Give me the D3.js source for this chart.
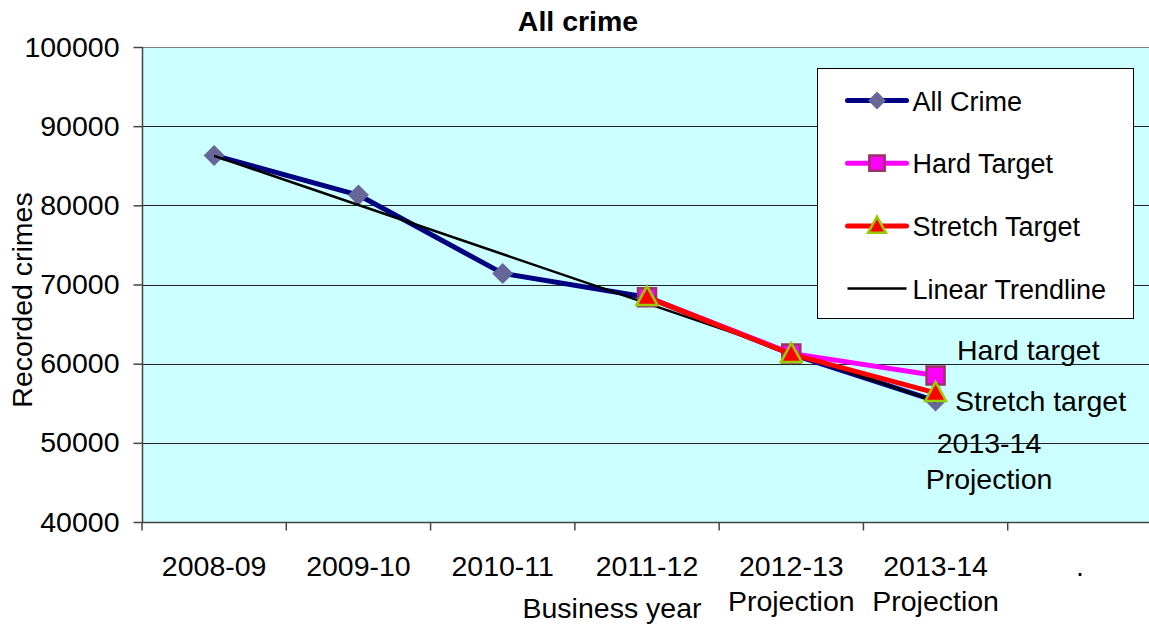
<!DOCTYPE html>
<html>
<head>
<meta charset="utf-8">
<script src="https://cdn.jsdelivr.net/npm/d3@7"></script>
<style>
  body { margin: 0; background: #fff; overflow: hidden; }
  text { font-family: "Liberation Sans", Arial, sans-serif; fill: #000; }
</style>
</head>
<body>
<div id="chart"></div>
<script>
var width = 1149,
    height = 626;

// data
var categories = ["2008-09", "2009-10", "2010-11", "2011-12", "2012-13\nProjection", "2013-14\nProjection", "."];
var allCrime = [86300, 81300, 71400, 68400, 61200, 55300, null];
var hardTarget = [null, null, null, 68400, 61300, 58500, null];
var stretchTarget = [null, null, null, 68400, 61200, 56300, null];
var trendline = [86250, null, null, null, null, 55200, null];
var yTicks = [40000, 50000, 60000, 70000, 80000, 90000, 100000];

var plot = {left: 142, top: 47, right: 1152, bottom: 522};
var fontSize = 28.5;

var x = d3.scaleBand()
    .domain(d3.range(categories.length))
    .range([plot.left, plot.right]);

var y = d3.scaleLinear()
    .domain([40000, 100000])
    .range([plot.bottom, plot.top]);

var cx = function(i) { return x(i) + x.bandwidth() / 2; };

var svg = d3.select("#chart").append("svg")
    .attr("width", width)
    .attr("height", height);

// plot background
svg.append("rect")
    .attr("x", plot.left)
    .attr("y", plot.top)
    .attr("width", plot.right - plot.left)
    .attr("height", plot.bottom - plot.top)
    .attr("fill", "#ccffff");

// gridlines
svg.selectAll(".grid")
    .data(yTicks.slice(1, -1))
  .enter().append("line")
    .attr("x1", plot.left)
    .attr("x2", plot.right)
    .attr("y1", function(d) { return Math.round(y(d)) + 0.5; })
    .attr("y2", function(d) { return Math.round(y(d)) + 0.5; })
    .attr("stroke", "#222")
    .attr("stroke-width", 1);

svg.append("line")
    .attr("x1", plot.left).attr("x2", plot.right)
    .attr("y1", plot.top + 0.5).attr("y2", plot.top + 0.5)
    .attr("stroke", "#808080");

// y axis
var yAxis = svg.append("g")
    .attr("transform", "translate(" + (plot.left + 0.5) + ",0)")
    .call(d3.axisLeft(y).tickValues(yTicks).tickSize(9).tickPadding(14).tickFormat(d3.format("d")));
yAxis.selectAll("path, line").attr("stroke", "#444").attr("stroke-width", 1.5);
yAxis.select(".domain").attr("d", "M0," + plot.top + "V" + plot.bottom);
yAxis.selectAll("text")
    .style("font-size", fontSize + "px")
    .style("font-family", "Liberation Sans, Arial, sans-serif")
    .attr("fill", "#000");

// x axis
var xAxis = svg.append("g")
    .attr("transform", "translate(0," + (plot.bottom + 0.5) + ")");
xAxis.append("line")
    .attr("x1", plot.left).attr("x2", plot.right)
    .attr("stroke", "#444").attr("stroke-width", 1.5);
xAxis.selectAll(".xtick")
    .data(d3.range(categories.length + 1))
  .enter().append("line")
    .attr("x1", function(i) { return plot.left + i * x.step(); })
    .attr("x2", function(i) { return plot.left + i * x.step(); })
    .attr("y1", 0).attr("y2", 8)
    .attr("stroke", "#444").attr("stroke-width", 1.5);

var xLabels = xAxis.selectAll(".xlabel")
    .data(categories)
  .enter().append("text")
    .attr("text-anchor", "middle")
    .style("font-size", fontSize + "px");
xLabels.each(function(d, i) {
  var parts = d.split("\n");
  d3.select(this).selectAll("tspan")
      .data(parts)
    .enter().append("tspan")
      .attr("x", cx(i))
      .attr("y", function(p, j) { return 53 + j * 35; })
      .text(function(p) { return p; });
});

// axis titles
svg.append("text")
    .attr("x", 612).attr("y", 618)
    .attr("text-anchor", "middle")
    .style("font-size", fontSize + "px")
    .text("Business year");

svg.append("text")
    .attr("transform", "translate(32,300) rotate(-90)")
    .attr("text-anchor", "middle")
    .style("font-size", fontSize + "px")
    .text("Recorded crimes");

svg.append("text")
    .attr("x", 578).attr("y", 31)
    .attr("text-anchor", "middle")
    .style("font-size", fontSize + "px")
    .style("font-weight", "bold")
    .text("All crime");

// series
var line = d3.line()
    .defined(function(d) { return d != null; })
    .x(function(d, i) { return cx(i); })
    .y(function(d) { return y(d); });

var diamond = function(s) { return "M0," + (-s) + "L" + s + ",0L0," + s + "L" + (-s) + ",0Z"; };
var square = function(s) { return "M" + (-s) + "," + (-s) + "H" + s + "V" + s + "H" + (-s) + "Z"; };
var triangle = function(s) { return "M0," + (-s) + "L" + (s * 0.95) + "," + (s * 0.72) + "H" + (-s * 0.95) + "Z"; };

var series = [
  {name: "All Crime", values: allCrime, color: "#000080", width: 5, marker: diamond, size: 10.5, fill: "#666699", stroke: "none"},
  {name: "Linear Trendline", values: trendline, color: "#000", width: 2.5, marker: null},
  {name: "Hard Target", values: hardTarget, color: "#ff00ff", width: 5, marker: square, size: 9, fill: "#ff00ff", stroke: "#993366"},
  {name: "Stretch Target", values: stretchTarget, color: "#ff0000", width: 5, marker: triangle, size: 11, fill: "#ff0000", stroke: "#99cc00"}
];

var lineFor = function(s) {
  if (s.marker) return line(s.values);
  var pts = s.values.map(function(v, i) { return v == null ? null : [cx(i), y(v)]; })
      .filter(function(p) { return p; });
  return "M" + pts.map(function(p) { return p.join(","); }).join("L");
};

series.forEach(function(s) {
  var g = svg.append("g");
  g.append("path")
      .attr("d", lineFor(s))
      .attr("fill", "none")
      .attr("stroke", s.color)
      .attr("stroke-width", s.width)
      .attr("stroke-linejoin", "round");
  if (!s.marker) return;
  g.selectAll(".m")
      .data(s.values.map(function(v, i) { return {v: v, i: i}; }).filter(function(d) { return d.v != null; }))
    .enter().append("path")
      .attr("transform", function(d) { return "translate(" + cx(d.i) + "," + y(d.v) + ")"; })
      .attr("d", s.marker(s.size))
      .attr("fill", s.fill)
      .attr("stroke", s.stroke)
      .attr("stroke-width", 2.5);
});

// annotations
var notes = [
  {text: "Hard target", x: 957, y: 360, anchor: "start"},
  {text: "Stretch target", x: 955, y: 411, anchor: "start"},
  {text: "2013-14", x: 989, y: 453, anchor: "middle"},
  {text: "Projection", x: 989, y: 489, anchor: "middle"}
];
svg.selectAll(".note")
    .data(notes)
  .enter().append("text")
    .attr("x", function(d) { return d.x; })
    .attr("y", function(d) { return d.y; })
    .attr("text-anchor", function(d) { return d.anchor; })
    .style("font-size", fontSize + "px")
    .text(function(d) { return d.text; });

// legend
var legend = svg.append("g").attr("transform", "translate(817.5,68.5)");
legend.append("rect")
    .attr("width", 316).attr("height", 250)
    .attr("fill", "#fff")
    .attr("stroke", "#000").attr("stroke-width", 1);

var legendOrder = [series[0], series[2], series[3], series[1]];
var item = legend.selectAll(".item")
    .data(legendOrder)
  .enter().append("g")
    .attr("transform", function(d, i) { return "translate(0," + (32 + i * 62.7) + ")"; });
item.append("line")
    .attr("x1", 30).attr("x2", 89)
    .attr("stroke", function(d) { return d.color; })
    .attr("stroke-width", function(d) { return d.marker ? 5 : 2.5; })
    .attr("stroke-linecap", function(d) { return d.marker ? "round" : "butt"; });
item.filter(function(d) { return d.marker; }).append("path")
    .attr("transform", "translate(59.5,0)")
    .attr("d", function(d) { return d.marker(d.size * 0.85); })
    .attr("fill", function(d) { return d.fill; })
    .attr("stroke", function(d) { return d.stroke; })
    .attr("stroke-width", 2.5);
item.append("text")
    .attr("x", 95)
    .attr("y", 10)
    .style("font-size", "27px")
    .text(function(d) { return d.name; });
</script>
</body>
</html>
